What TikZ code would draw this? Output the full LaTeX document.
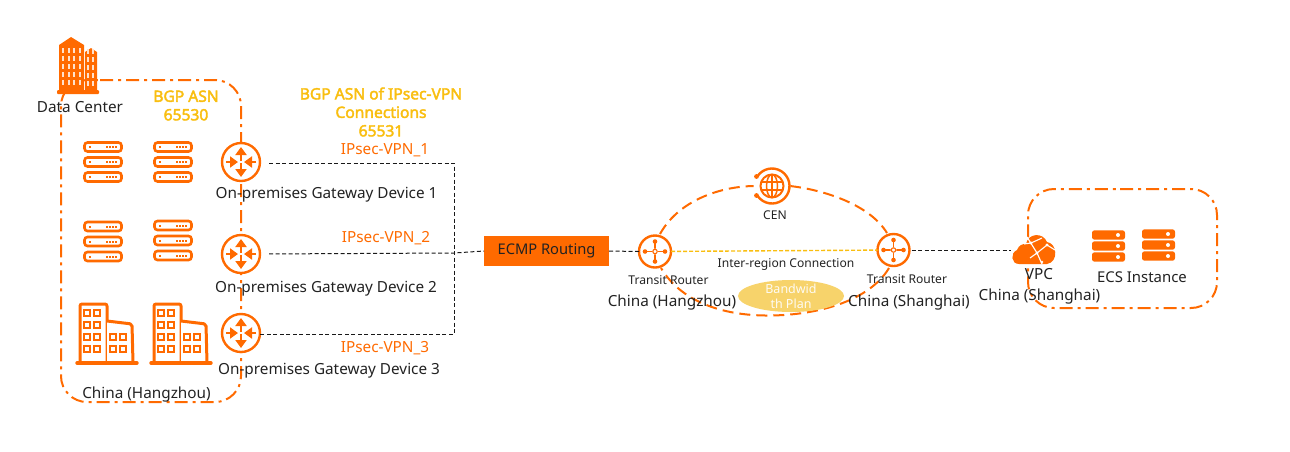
\documentclass[tikz,border=0pt]{standalone}
\usepackage{fontspec}
\setmainfont{Noto Sans}
\newfontfamily\asnfont[FakeBold=2.5]{Noto Sans}
\usetikzlibrary{arrows.meta,calc,shapes.geometric}
\definecolor{ali}{HTML}{FF6A00}
\definecolor{gold}{HTML}{F9BE10}
\definecolor{band}{HTML}{F7D36B}
\definecolor{ink}{HTML}{222222}
\tikzset{
  x=1pt,y=-1pt,
  every node/.style={inner sep=0,outer sep=0,text=ink,font=\fontsize{15.3}{18.5}\selectfont,align=center},
  region/.style={draw=ali,line width=2pt,dash pattern=on 13pt off 5pt on 3pt off 5pt,rounded corners=26pt},
  bigdash/.style={draw=ali,line width=2pt,dash pattern=on 11pt off 6pt},
  link/.style={draw=black!90,line width=1pt,dash pattern=on 4pt off 2.5pt},
  goldlink/.style={draw=gold,line width=1.4pt,dash pattern=on 4pt off 2pt},
  hub/.style={circle,draw=ali,fill=white,line width=2.4pt,minimum size=#1},
  hub/.default=38pt,
  vpn/.style={text=ali},
  asn/.style={text=gold,font=\fontsize{15.6}{18.5}\selectfont\asnfont},
  small/.style={font=\fontsize{12.1}{14}\selectfont},
  rackunit/.style={draw=ali,line width=2.6pt,fill=white,rounded corners=3pt},
  solidunit/.style={fill=ali,rounded corners=2.5pt},
  pics/rack/.style={code={
    \foreach \yy in {-15,0,15}{
      \draw[rackunit] (-18.5,\yy-4.5) rectangle (18.5,\yy+4.5);
      \fill[ali] (-14,\yy-1) rectangle (-12,\yy+1);
      \foreach \xx in {4,7,10,13}{\fill[ali] (\xx-1,\yy-1) rectangle (\xx+1,\yy+1);}
    }}},
  pics/ecs/.style={code={
    \foreach \yy in {-11,0,11}{
      \fill[solidunit] (-16.5,\yy-4.7) rectangle (16.5,\yy+4.7);
      \fill[white] (9.5,\yy) circle (2pt);
    }}},
  pics/arrows/.style={code={
    \draw[ali,line width=2.6pt,-{Triangle[length=8pt,width=11pt]}] (0,-1) -- (0,-15);
    \draw[ali,line width=2.6pt,-{Triangle[length=8pt,width=11pt]}] (0,1) -- (0,15);
    \draw[ali,line width=2.6pt,-{Triangle[length=8pt,width=11pt]}] (-15,0) -- (-3,0);
    \draw[ali,line width=2.6pt,-{Triangle[length=8pt,width=11pt]}] (15,0) -- (3,0);
    }},
  pics/spokes/.style={code={
    \draw[ali,line width=1.8pt] (0,-10) -- (0,10) (-10,0) -- (10,0);
    \foreach \a/\b in {0/-10,0/10,-10/0,10/0}{\fill[ali] (\a,\b) circle (2.3pt);}
    \fill[white] (0,0) circle (3pt);
    \draw[ali,line width=1.1pt] (0,0) circle (2.2pt);
    }},
  pics/globe/.style={code={
    \draw[ali,line width=2pt] (0,0) circle (11.5pt);
    \draw[ali,line width=1.5pt] (0,0) ellipse (5.5 and 11.5);
    \draw[ali,line width=1.5pt] (-11,-4) -- (11,-4) (-11,4) -- (11,4) (0,-11.5) -- (0,11.5);
    }},
  pics/city/.style={code={
    \draw[ali,line width=3pt,fill=white,line join=round,rounded corners=2pt] (4,60) -- (4,1) -- (31,1) -- (31,60);
    \draw[ali,line width=3pt,fill=white,line join=round,rounded corners=2pt] (31,18) -- (56,21) -- (57,60) -- (31,60);
    \draw[ali,line width=3.4pt,line cap=round] (1,60) -- (61,60);
    \foreach \xx in {11,21}\foreach \yy in {10,22,34,46}{\draw[ali,line width=1.5pt] (\xx-3,\yy-3) rectangle (\xx+3,\yy+3);}
    \foreach \xx in {37,47}\foreach \yy in {34,46}{\draw[ali,line width=1.5pt] (\xx-3,\yy-3) rectangle (\xx+3,\yy+3);}
    }},
}
\begin{document}
\begin{tikzpicture}
\useasboundingbox (0,0) rectangle (1290,451);
% region frames
\draw[region] (100,80) -- (241,80) -- (241,402) -- (61,402) -- (61,80) -- (100,80);
\draw[region] (1120,189) -- (1217,189) -- (1217,308) -- (1028,308) -- (1028,189) -- (1120,189);

% data centre icon
\begin{scope}
  \fill[ali] (59,45) -- (71,37) -- (84,45) -- (84,90) -- (59,90) -- cycle;
  \fill[ali] (85,52) -- (91,48) -- (97,52) -- (97,90) -- (85,90) -- cycle;
  \fill[ali,rounded corners=1pt] (57,90) rectangle (99,94);
  \foreach \yy in {48,56,64,72,80}{
    \foreach \xx in {62,67.5,73,78.5}{\fill[white!80!ali] (\xx,\yy) rectangle +(2.3,5);}
    \foreach \xx in {87,92}{\fill[white!80!ali] (\xx,\yy+1) rectangle +(2.3,4.5);}
  }
\end{scope}
\node (dc) at (80,107) {Data Center};
\node[asn] (asn1) at (186,105.5) {BGP ASN\\65530};
\node[asn] (asn2) at (381,112) {BGP ASN of IPsec-VPN\\Connections\\65531};

% racks and buildings
\pic at (103,162) {rack};
\pic at (173,162) {rack};
\pic at (103,241.5) {rack};
\pic at (173,240.5) {rack};
\pic at (76,303) {city};
\pic at (150,303) {city};
\node (cn1) at (146.5,394.5) {China (Hangzhou)};

% routers
\node[hub] (r1) at (241,162) {};
\node[hub] (r2) at (241,254) {};
\node[hub] (r3) at (241,333) {};
\pic at (r1) {arrows};
\pic at (r2) {arrows};
\pic at (r3) {arrows};
\node (l1) at (326.5,194.5) {On-premises Gateway Device 1};
\node (l2) at (326,288.5) {On-premises Gateway Device 2};
\node (l3) at (329,370.5) {On-premises Gateway Device 3};
\node[vpn] (v1) at (385,150) {IPsec-VPN\_1};
\node[vpn] (v2) at (386,238) {IPsec-VPN\_2};
\node[vpn] (v3) at (385,348) {IPsec-VPN\_3};

% ECMP
\node[fill=ali,minimum width=125pt,minimum height=30pt,font=\fontsize{14.7}{18}\selectfont] (ecmp) at (546.5,251) {\raisebox{-1pt}{\textcolor{ink}{ECMP Routing}}};
\coordinate (j1) at (454,163);
\coordinate (j2) at (454,253);
\coordinate (j3) at (454,334);
\draw[link,shorten <=9pt] (r1.east |- j1) -- (j1) -- (j3) -- (r3.east |- j3);
\draw[link,shorten <=9pt] (r2.east) -- (j2) -- (ecmp.west);

% CEN ring
\node[hub=32pt] (tr1) at (655,251.5) {};
\node[hub=32pt] (tr2) at (893.5,250) {};
\draw[bigdash] (660,234) .. controls (680,198) and (725,186) .. (755,186);
\draw[bigdash] (790,186) .. controls (825,190) and (870,205) .. (887,233);
\draw[bigdash] (889,268) .. controls (870,300) and (820,315) .. (770,315.5) .. controls (720,316) and (680,300) .. (661,268);
\draw[goldlink] (tr1) -- (tr2);
\draw[link] (ecmp.east) -- (tr1.west);
\pic at (tr1) {spokes};
\pic at (tr2) {spokes};
\node[circle,fill=white,minimum size=37pt] (cen) at (772,186) {};
\draw[ali,line width=2.4pt] (cen.center) ++(148:17.5pt) arc[start angle=148,end angle=-148,radius=17.5pt];
\fill[ali] (756.5,176.5) circle (2.4pt) (756.5,195.5) circle (2.4pt);
\pic at (cen.center) {globe};
\node[small] (cenl) at (775,215) {CEN};
\node[small] (irc) at (786,264) {Inter-region Connection};
\node[small] (trl1) at (668.5,280) {Transit Router};
\node[small] (trl2) at (907,279) {Transit Router};
\node (ch1) at (672,302.5) {China (Hangzhou)};
\node (ch2) at (909,302.5) {China (Shanghai)};
\node[ellipse,fill=band,minimum width=106pt,minimum height=32pt] (bw) at (791,296) {};
\node[font=\fontsize{12.5}{14.5}\selectfont,text=white!92!band] (bwt) at (791,296.5) {Bandwid\\th Plan};

% VPC
\coordinate (cloudw) at (1011,250);
\draw[link] (tr2.east) ++(2,0) -- (cloudw);
\begin{scope}
  \fill[ali] (1019,264) .. controls (1011,264) and (1010,253) .. (1017,250)
    .. controls (1019,245) and (1022,244) .. (1026,244)
    .. controls (1028,233) and (1043,232) .. (1047,242)
    .. controls (1057,243) and (1059,262) .. (1047,264) -- cycle;
  \draw[white,line width=1.1pt] (1027,237) -- (1037,253) -- (1042,264) (1037,253) -- (1047,245) -- (1055,250) (1024,244) -- (1031,243) -- (1042,238) (1037,253) -- (1030,258);
  \fill[white] (1031,243) circle (1.7pt) (1037,253) circle (1.7pt) (1047,245) circle (1.7pt) (1042,262) circle (1.4pt);
\end{scope}
\node (vpc) at (1039,274.5) {VPC};
\node (chs) at (1039.5,297) {China (Shanghai)};
\pic at (1108.5,246) {ecs};
\pic at (1158.5,245) {ecs};
\node[font=\fontsize{14.9}{18}\selectfont] (ecsl) at (1142,277.5) {ECS Instance};
\end{tikzpicture}
\end{document}
